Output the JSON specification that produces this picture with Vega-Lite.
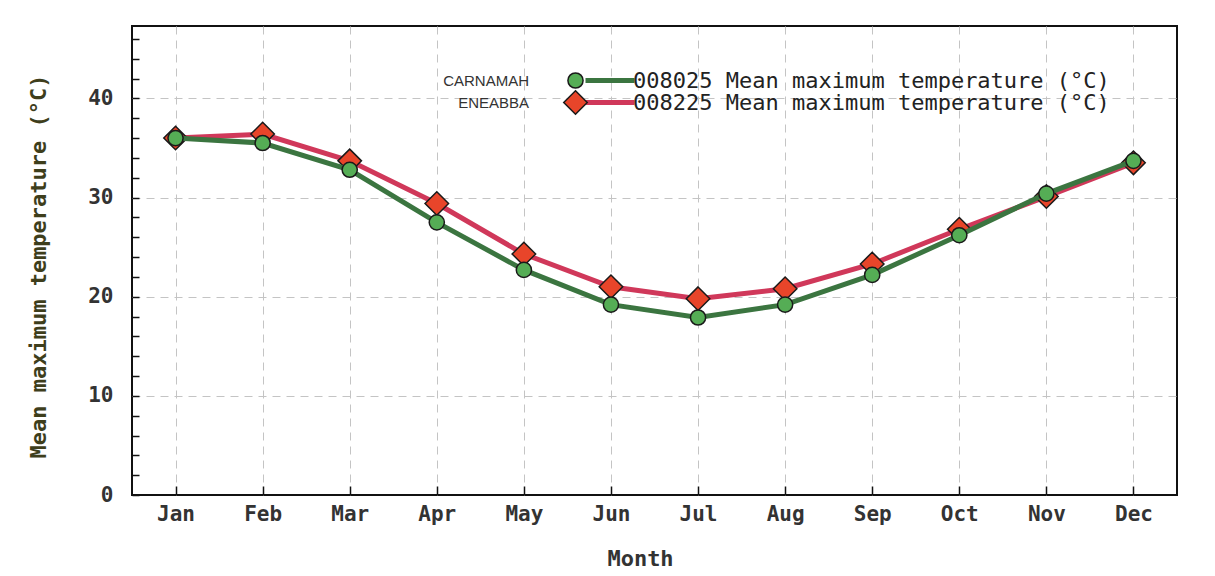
{
  "$schema": "https://vega.github.io/schema/vega-lite/v6.json",
  "width": 1045,
  "height": 469,
  "autosize": {"type": "none"},
  "padding": {"left": 132, "top": 26, "right": 38, "bottom": 81},
  "background": "white",
  "config": {
    "view": {"stroke": "#111", "strokeWidth": 2},
    "axis": {"domain": false}
  },
  "data": {"values": [
    {"month": "Jan", "station": "CARNAMAH", "series": "008025 Mean maximum temperature (°C)", "temp": 36.0},
    {"month": "Feb", "station": "CARNAMAH", "series": "008025 Mean maximum temperature (°C)", "temp": 35.5},
    {"month": "Mar", "station": "CARNAMAH", "series": "008025 Mean maximum temperature (°C)", "temp": 32.8},
    {"month": "Apr", "station": "CARNAMAH", "series": "008025 Mean maximum temperature (°C)", "temp": 27.5},
    {"month": "May", "station": "CARNAMAH", "series": "008025 Mean maximum temperature (°C)", "temp": 22.7},
    {"month": "Jun", "station": "CARNAMAH", "series": "008025 Mean maximum temperature (°C)", "temp": 19.2},
    {"month": "Jul", "station": "CARNAMAH", "series": "008025 Mean maximum temperature (°C)", "temp": 17.9},
    {"month": "Aug", "station": "CARNAMAH", "series": "008025 Mean maximum temperature (°C)", "temp": 19.2},
    {"month": "Sep", "station": "CARNAMAH", "series": "008025 Mean maximum temperature (°C)", "temp": 22.2},
    {"month": "Oct", "station": "CARNAMAH", "series": "008025 Mean maximum temperature (°C)", "temp": 26.2},
    {"month": "Nov", "station": "CARNAMAH", "series": "008025 Mean maximum temperature (°C)", "temp": 30.4},
    {"month": "Dec", "station": "CARNAMAH", "series": "008025 Mean maximum temperature (°C)", "temp": 33.7},
    {"month": "Jan", "station": "ENEABBA", "series": "008225 Mean maximum temperature (°C)", "temp": 36.0},
    {"month": "Feb", "station": "ENEABBA", "series": "008225 Mean maximum temperature (°C)", "temp": 36.4},
    {"month": "Mar", "station": "ENEABBA", "series": "008225 Mean maximum temperature (°C)", "temp": 33.7},
    {"month": "Apr", "station": "ENEABBA", "series": "008225 Mean maximum temperature (°C)", "temp": 29.4},
    {"month": "May", "station": "ENEABBA", "series": "008225 Mean maximum temperature (°C)", "temp": 24.3},
    {"month": "Jun", "station": "ENEABBA", "series": "008225 Mean maximum temperature (°C)", "temp": 21.0},
    {"month": "Jul", "station": "ENEABBA", "series": "008225 Mean maximum temperature (°C)", "temp": 19.8},
    {"month": "Aug", "station": "ENEABBA", "series": "008225 Mean maximum temperature (°C)", "temp": 20.8},
    {"month": "Sep", "station": "ENEABBA", "series": "008225 Mean maximum temperature (°C)", "temp": 23.3},
    {"month": "Oct", "station": "ENEABBA", "series": "008225 Mean maximum temperature (°C)", "temp": 26.8},
    {"month": "Nov", "station": "ENEABBA", "series": "008225 Mean maximum temperature (°C)", "temp": 30.1},
    {"month": "Dec", "station": "ENEABBA", "series": "008225 Mean maximum temperature (°C)", "temp": 33.5}
  ]},
  "encoding": {
    "x": {
      "field": "month", "type": "ordinal", "sort": null,
      "scale": {"type": "point", "padding": 0.5},
      "axis": {
        "title": "Month", "labelAngle": 0,
        "labelFont": "DejaVu Sans Mono", "labelFontWeight": "bold", "labelFontSize": 21, "labelColor": "#333",
        "labelPadding": 17,
        "tickSize": -9, "tickColor": "#111", "tickWidth": 1.5,
        "grid": true, "gridColor": "#c4c4c4", "gridDash": [8, 6], "gridWidth": 1,
        "titleFont": "DejaVu Sans Mono", "titleFontWeight": "bold", "titleFontSize": 22, "titleColor": "#333",
        "titleX": 508, "titleY": 63, "titleBaseline": "middle", "titleAnchor": "middle"
      }
    },
    "y": {
      "field": "temp", "type": "quantitative",
      "scale": {"domain": [0, 47.3], "nice": false, "zero": true},
      "axis": {
        "title": "Mean maximum temperature (°C)",
        "values": [0, 2, 4, 6, 8, 10, 12, 14, 16, 18, 20, 22, 24, 26, 28, 30, 32, 34, 36, 38, 40, 42, 44, 46],
        "labelExpr": "datum.value % 10 === 0 ? datum.label : ''",
        "labelFont": "DejaVu Sans Mono", "labelFontWeight": "bold", "labelFontSize": 21, "labelColor": "#333",
        "labelPadding": 26,
        "tickSize": -7, "tickColor": "#111", "tickWidth": 1.5,
        "grid": true, "gridColor": "#c4c4c4", "gridDash": [8, 6], "gridWidth": 1,
        "gridOpacity": {"condition": {"test": "datum.value % 10 === 0 && datum.value > 0", "value": 1}, "value": 0},
        "titleFont": "DejaVu Sans Mono", "titleFontWeight": "bold", "titleFontSize": 22, "titleColor": "#3e3e1c",
        "titleX": -94, "titleY": 240, "titleAngle": -90, "titleBaseline": "middle", "titleAlign": "center"
      }
    }
  },
  "layer": [
    {
      "transform": [{"filter": "datum.station === 'ENEABBA'"}],
      "mark": {"type": "line", "strokeWidth": 5},
      "encoding": {
        "stroke": {
          "field": "series", "type": "nominal",
          "scale": {"domain": ["008025 Mean maximum temperature (°C)", "008225 Mean maximum temperature (°C)"], "range": ["#3b7540", "#d0385a"]},
          "legend": {
            "orient": "none", "legendX": 441, "legendY": 42, "title": null, "padding": 0,
            "symbolType": "M0,0H4.9", "symbolSize": 400, "symbolStrokeWidth": 5,
            "labelFont": "DejaVu Sans Mono", "labelFontSize": 22, "labelColor": "#222", "labelOffset": 35,
            "labelLimit": 700, "rowPadding": -2, "gridAlign": "none"
          }
        }
      }
    },
    {
      "transform": [{"filter": "datum.station === 'ENEABBA'"}],
      "mark": {"type": "point", "filled": true, "stroke": "#1a1a1a", "strokeWidth": 1.5, "opacity": 1, "size": 230},
      "encoding": {
        "shape": {"field": "station", "type": "nominal", "scale": {"domain": ["CARNAMAH", "ENEABBA"], "range": ["circle", "M0,-1.55L1.55,0L0,1.55L-1.55,0Z"]}},
        "fill": {"field": "station", "type": "nominal", "scale": {"domain": ["CARNAMAH", "ENEABBA"], "range": ["#55ad55", "#e8452a"]},
          "legend": {
            "orient": "none", "legendX": 435, "legendY": 46, "title": null, "padding": 0,
            "symbolSize": 230,
            "symbolStrokeColor": "#1a1a1a", "symbolStrokeWidth": 1.5, "symbolOpacity": 1,
            "labelFont": "Liberation Sans", "labelFontSize": 15, "labelColor": "#333",
            "labelAlign": "right", "labelOffset": -55, "rowPadding": -5, "gridAlign": "none"
          }
        }
      }
    },
    {
      "transform": [{"filter": "datum.station === 'CARNAMAH'"}],
      "mark": {"type": "line", "strokeWidth": 5},
      "encoding": {"stroke": {"field": "series", "type": "nominal"}}
    },
    {
      "transform": [{"filter": "datum.station === 'CARNAMAH'"}],
      "mark": {"type": "point", "filled": true, "stroke": "#1a1a1a", "strokeWidth": 1.5, "opacity": 1, "size": 230},
      "encoding": {
        "shape": {"field": "station", "type": "nominal"},
        "fill": {"field": "station", "type": "nominal"}
      }
    }
  ]
}
